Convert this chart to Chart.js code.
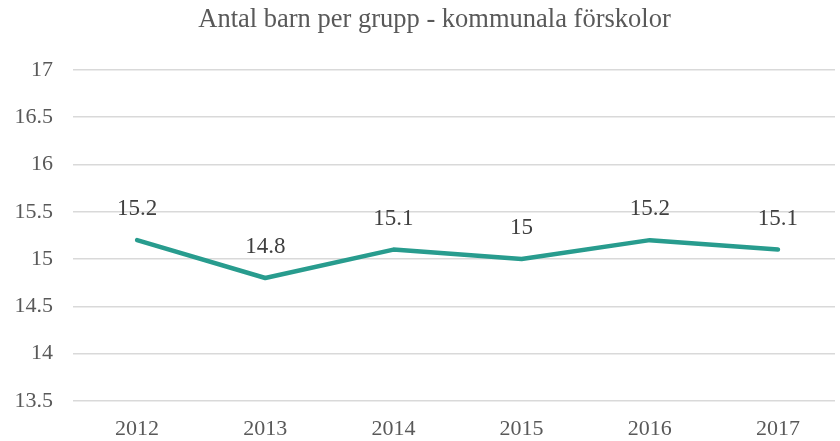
<!DOCTYPE html>
<html>
<head>
<meta charset="utf-8">
<script src="https://cdn.jsdelivr.net/npm/chart.js@4"></script>
<style>
  html, body { margin: 0; padding: 0; background: #fff; }
  #wrap { width: 840px; height: 441px; }
</style>
</head>
<body>
<div id="wrap"><canvas id="myChart"></canvas></div>
<script>
const years = ["2012", "2013", "2014", "2015", "2016", "2017"];
const children = [15.2, 14.8, 15.1, 15.0, 15.2, 15.1];
const valueLabels = ["15.2", "14.8", "15.1", "15", "15.2", "15.1"];
const yTicks = [13.5, 14, 14.5, 15, 15.5, 16, 16.5, 17];

// draws the numbers above each point, and nudges the title right a bit
const pointLabels = {
  id: "pointLabels",
  afterLayout(chart) {
    if (chart.titleBlock) chart.titleBlock.left += 34;
  },
  afterDatasetsDraw(chart) {
    const c = chart.ctx;
    const meta = chart.getDatasetMeta(0);
    c.save();
    c.font = "23px 'Liberation Serif'";
    c.fillStyle = "#404040";
    c.textAlign = "center";
    c.textBaseline = "middle";
    meta.data.forEach((pt, i) => {
      c.fillText(valueLabels[i], pt.x, pt.y - 31);
    });
    c.restore();
  },
};

const ctx = document.getElementById("myChart");

const myChart = new Chart(ctx, {
  type: "line",
  data: {
    datasets: [
      {
        data: children.map((v, i) => ({ x: i, y: v })),
        borderColor: "#289c8e",
        borderWidth: 4.5,
        borderCapStyle: "round",
        borderJoinStyle: "round",
        pointRadius: 0,
        tension: 0,
        fill: false,
      },
    ],
  },
  options: {
    responsive: true,
    maintainAspectRatio: false,
    animation: false,
    layout: { padding: { left: 0, right: 5, top: 0, bottom: 0 } },
    plugins: {
      legend: { display: false },
      tooltip: { enabled: false },
      title: {
        display: true,
        text: "Antal barn per grupp - kommunala förskolor",
        color: "#595959",
        font: { family: "'Liberation Serif'", size: 26.5, weight: "normal" },
        padding: { top: 4, bottom: 34 },
      },
    },
    scales: {
      x: {
        type: "linear",
        min: -0.5,
        max: 5.445,
        grid: { display: false },
        border: { display: false },
        afterBuildTicks(scale) {
          scale.ticks = years.map((y, i) => ({ value: i }));
        },
        ticks: {
          color: "#595959",
          font: { family: "'Liberation Serif'", size: 22 },
          padding: 7,
          maxRotation: 0,
          callback: (v) => years[v],
        },
        afterFit(scale) { scale.height = 40; },
      },
      y: {
        min: 13.5,
        max: 17,
        grid: { color: "#d9d9d9", lineWidth: 1.5, drawTicks: false },
        border: { display: false },
        afterBuildTicks(scale) {
          scale.ticks = yTicks.map((v) => ({ value: v }));
        },
        ticks: {
          color: "#595959",
          font: { family: "'Liberation Serif'", size: 22 },
          padding: 20,
          callback: (v) => String(v),
        },
        afterFit(scale) { scale.width = 73; },
      },
    },
  },
  plugins: [pointLabels],
});
</script>
</body>
</html>
